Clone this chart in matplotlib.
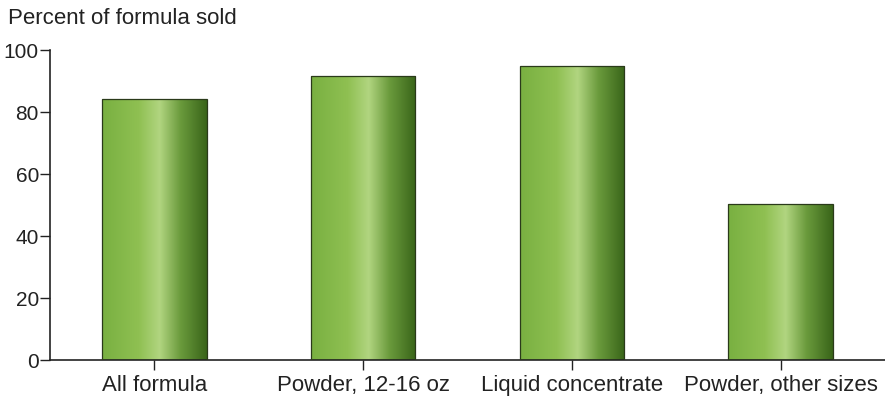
import numpy as np
import matplotlib
matplotlib.use("Agg")
import matplotlib.pyplot as plt
from matplotlib.colors import LinearSegmentedColormap

categories = ["All formula", "Powder, 12-16 oz", "Liquid concentrate", "Powder, other sizes"]
values = [84.3, 91.7, 95.0, 50.4]
yticks = [0, 20, 40, 60, 80, 100]

plt.rcParams['font.family'] = ['Liberation Sans', 'DejaVu Sans']

fig = plt.figure(figsize=(8.85, 4.0), dpi=100)
ax = fig.add_axes([50 / 885, 40 / 400, 835 / 885, 310 / 400])

grad = LinearSegmentedColormap.from_list(
    "bar", [(0.0, "#79b041"), (0.35, "#8fc052"), (0.55, "#b1d580"),
            (0.75, "#6a9a3c"), (1.0, "#396519")])
g = np.linspace(0, 1, 256).reshape(1, -1)

x = np.arange(len(categories))
bars = ax.bar(x, values, width=0.5, facecolor="none", edgecolor="#2a3a1a", linewidth=0.9, zorder=3)
for b in bars:
    x0, w, h = b.get_x(), b.get_width(), b.get_height()
    im = ax.imshow(g, cmap=grad, aspect="auto", extent=[x0, x0 + w, 0, h], zorder=2)
    im.set_clip_path(b)

ax.set_xlim(-0.5, 3.5)
ax.set_ylim(0, 100)
ax.set_xticks(x)
ax.set_xticklabels(categories, fontsize=16, color="#222222")
ax.set_yticks(yticks)
ax.set_yticklabels([str(t) for t in yticks], fontsize=15, color="#222222")
ax.tick_params(axis="both", direction="out", length=7, width=1, color="#222222")
ax.tick_params(axis="y", pad=1)
ax.tick_params(axis="x", pad=4)
for s in ["top", "right"]:
    ax.spines[s].set_visible(False)
for s in ["left", "bottom"]:
    ax.spines[s].set_linewidth(1.2)
    ax.spines[s].set_color("#222222")

fig.text(8 / 885, 1 - 19 / 400, "Percent of formula sold", fontsize=16, va="center", ha="left", color="#222222")

fig.savefig("out.png", dpi=100)
